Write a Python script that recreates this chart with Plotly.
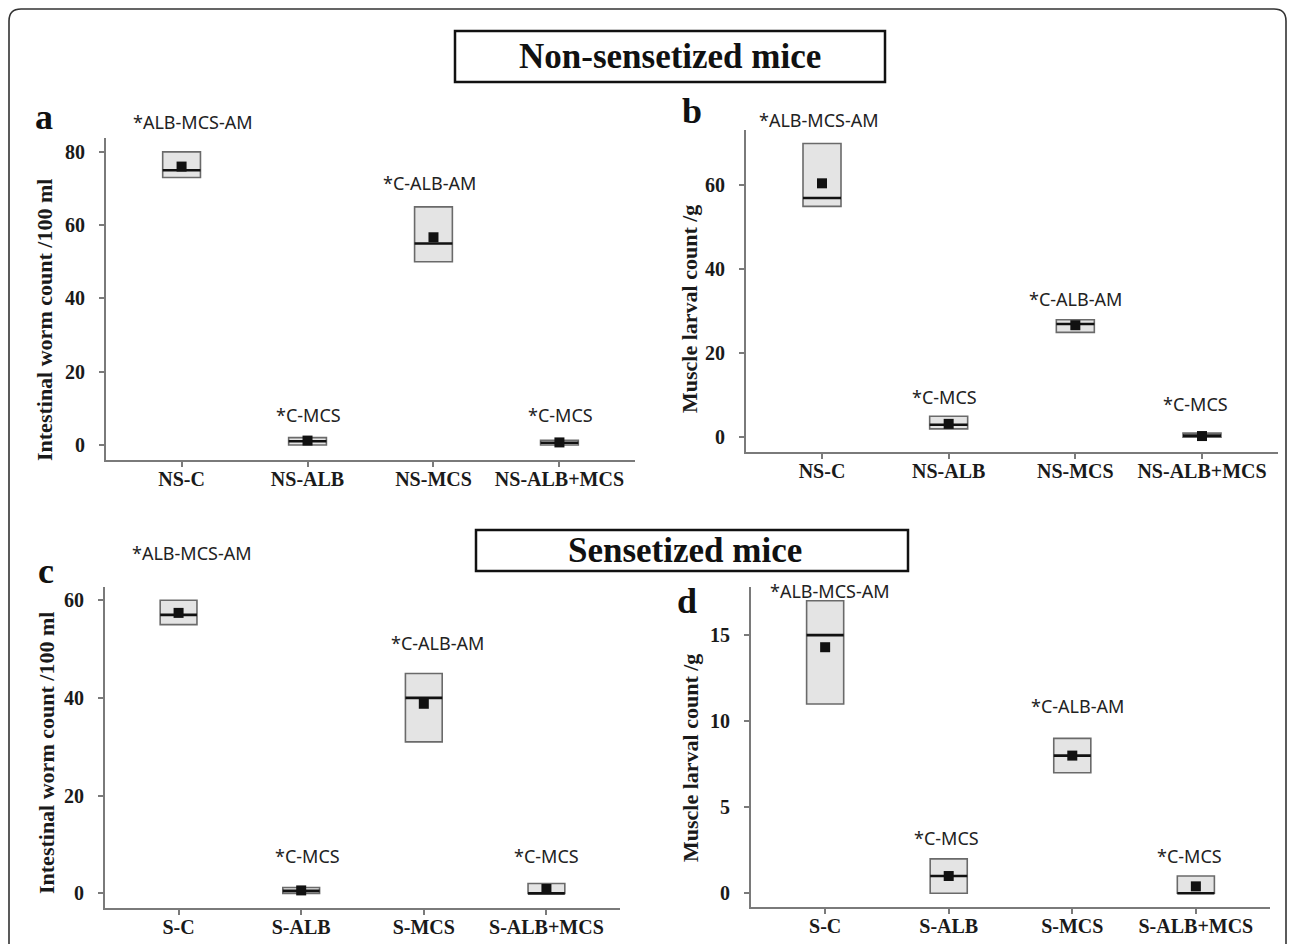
import plotly.graph_objects as go

# The page body adds an 8px margin; all reference pixel positions are shifted by it.
OFF = 8
W, H = 1295 - 2 * OFF, 952 - 2 * OFF

# ---------------- data ----------------
cats_ns = ["NS-C", "NS-ALB", "NS-MCS", "NS-ALB+MCS"]
cats_s = ["S-C", "S-ALB", "S-MCS", "S-ALB+MCS"]

# panel a : intestinal worms, non-sensitized
a_q1 = [73, 0, 50, 0]
a_q3 = [80, 2, 65, 1.3]
a_med = [75, 1, 55, 0.6]
a_mean = [76, 1.2, 56.7, 0.7]

# panel b : muscle larvae, non-sensitized
b_q1 = [55, 2, 25, 0]
b_q3 = [70, 5, 28, 1]
b_med = [57, 3, 27, 0.4]
b_mean = [60.5, 3.2, 26.7, 0.3]

# panel c : intestinal worms, sensitized
c_q1 = [55, 0, 31, 0]
c_q3 = [60, 1.2, 45, 2]
c_med = [57, 0.5, 40, 0]
c_mean = [57.4, 0.6, 38.8, 0.9]

# panel d : muscle larvae, sensitized
d_q1 = [11, 0, 7, 0]
d_q3 = [17, 2, 9, 1]
d_med = [15, 1, 8, 0]
d_mean = [14.3, 1.0, 8.0, 0.4]

# significance labels
sig_labels = ["*ALB-MCS-AM", "*C-MCS", "*C-ALB-AM", "*C-MCS"]

y_titles = ["Intestinal worm count /100 ml", "Muscle larval count /g",
            "Intestinal worm count /100 ml", "Muscle larval count /g"]
y_ticks = [[0, 20, 40, 60, 80], [0, 20, 40, 60], [0, 20, 40, 60], [0, 5, 10, 15]]
y_ranges = [[-4.1, 83.8], [-3.5, 73.2], [-3.0, 62.7], [-0.8, 17.8]]

# ---------------- layout geometry (reference pixels) ----------------
areas = [(106, 635, 138, 460), (746, 1278, 130, 452),
         (105, 620, 587, 908), (751, 1270, 587, 907)]
# label positions: (category offset, pixel y) per panel
sig_pos = [
    [(0.09, 122), (1.01, 415), (1.97, 183), (3.01, 415)],
    [(-0.02, 120), (0.97, 397), (2.0, 299), (2.95, 404)],
    [(0.11, 553), (1.05, 856), (2.11, 643), (3.0, 856)],
    [(0.04, 591), (0.98, 838), (2.04, 706), (2.95, 856)],
]
letters = ["a", "b", "c", "d"]
letter_px = [(44, 117), (692, 111), (46, 571), (687, 601)]
ytitle_px = [(45, 320), (690, 309), (46, 753), (690, 758)]


def fx(x):
    return (x - OFF) / W


def fy(y):
    return 1 - (y - OFF) / H


panels = [
    (cats_ns, a_q1, a_q3, a_med, a_mean),
    (cats_ns, b_q1, b_q3, b_med, b_mean),
    (cats_s, c_q1, c_q3, c_med, c_mean),
    (cats_s, d_q1, d_q3, d_med, d_mean),
]

SERIF = "Liberation Serif"
SANS = "Noto Sans"
AX = "#7a7a7a"

fig = go.Figure()
layout = dict(
    width=W, height=H, margin=dict(l=0, r=0, t=0, b=0),
    paper_bgcolor="white", plot_bgcolor="white", showlegend=False,
    barmode="overlay",
)
annotations = []
shapes = []

for i, (cats, q1, q3, med, mean) in enumerate(panels):
    n = "" if i == 0 else str(i + 1)
    xa, ya = "x" + n, "y" + n
    xs = list(range(len(cats)))
    l, r, t, b = areas[i]
    # box rectangles
    fig.add_trace(go.Bar(
        x=xs, y=[hi - lo for lo, hi in zip(q1, q3)], base=q1, width=0.3,
        marker=dict(color="#e4e4e4", line=dict(color="#6a6a6a", width=1.6)),
        xaxis=xa, yaxis=ya, hoverinfo="skip"))
    # median lines
    fig.add_trace(go.Scatter(
        x=xs, y=med, mode="markers", marker=dict(size=1, opacity=0),
        error_x=dict(type="constant", value=0.15, width=0, thickness=2.6, color="#111111"),
        xaxis=xa, yaxis=ya, hoverinfo="skip"))
    # mean squares
    fig.add_trace(go.Scatter(
        x=xs, y=mean, mode="markers",
        marker=dict(symbol="square", size=10, color="#111111"),
        xaxis=xa, yaxis=ya))

    layout["xaxis" + n] = dict(
        domain=[fx(l), fx(r)], anchor=ya, range=[-0.6, 3.6],
        tickmode="array", tickvals=xs, ticktext=cats,
        showline=True, linecolor=AX, linewidth=2, mirror=False,
        ticks="outside", ticklen=5, tickwidth=2, tickcolor=AX,
        showgrid=False, zeroline=False, ticklabelstandoff=-5,
        tickfont=dict(family=SERIF, size=20, color="#1a1a1a", weight="bold"),
    )
    layout["yaxis" + n] = dict(
        domain=[fy(b), fy(t)], anchor=xa, range=y_ranges[i],
        tickmode="array", tickvals=y_ticks[i],
        showline=True, linecolor=AX, linewidth=2,
        ticks="outside", ticklen=5, tickwidth=2, tickcolor=AX,
        showgrid=False, zeroline=False, ticklabelstandoff=10,
        tickfont=dict(family=SERIF, size=20, color="#1a1a1a", weight="bold"),
    )
    # significance labels
    for lab, (dx, py) in zip(sig_labels, sig_pos[i]):
        annotations.append(dict(
            x=dx, y=fy(py), xref=xa, yref="paper", text=lab, showarrow=False,
            font=dict(family=SANS, size=18, color="#222222"),
            xanchor="center", yanchor="middle"))
    # panel letter
    lx, ly = letter_px[i]
    annotations.append(dict(
        x=fx(lx), y=fy(ly), xref="paper", yref="paper", text=letters[i],
        showarrow=False, font=dict(family=SERIF, size=36, color="#111111", weight="bold"),
        xanchor="center", yanchor="middle"))
    # y title
    tx, ty = ytitle_px[i]
    annotations.append(dict(
        x=fx(tx), y=fy(ty), xref="paper", yref="paper", text=y_titles[i],
        showarrow=False, textangle=-90,
        font=dict(family=SERIF, size=22, color="#1a1a1a", weight="bold"),
        xanchor="center", yanchor="middle"))

# group title boxes: text, box (l, r, t, b), text centre x, font size
titles = [("Non-sensetized mice", (455, 885, 31, 82), 670, 35),
          ("Sensetized mice", (476, 908, 530, 571), 685, 35)]
for text, (l, r, t, b), cx, fs in titles:
    shapes.append(dict(type="rect", xref="paper", yref="paper",
                       x0=fx(l), x1=fx(r), y0=fy(b), y1=fy(t),
                       line=dict(color="#111111", width=2.5), fillcolor="white"))
    annotations.append(dict(
        x=fx(cx), y=fy((t + b) / 2), xref="paper", yref="paper",
        text=text, showarrow=False,
        font=dict(family=SERIF, size=fs, color="#111111", weight="bold"),
        xanchor="center", yanchor="middle"))

# outer rounded frame (runs off the bottom edge)
L, R, T, B, rad = 9, 1286, 9, 960, 12


def pp(x, y):
    return f"{fx(x):.5f},{fy(y):.5f}"


path = (f"M {pp(L, B)} L {pp(L, T + rad)} Q {pp(L, T)} {pp(L + rad, T)} "
        f"L {pp(R - rad, T)} Q {pp(R, T)} {pp(R, T + rad)} L {pp(R, B)}")
shapes.append(dict(type="path", xref="paper", yref="paper", path=path,
                   line=dict(color="#333333", width=1.6)))

layout["annotations"] = annotations
layout["shapes"] = shapes
fig.update_layout(**layout)

fig.write_html("out.html")
